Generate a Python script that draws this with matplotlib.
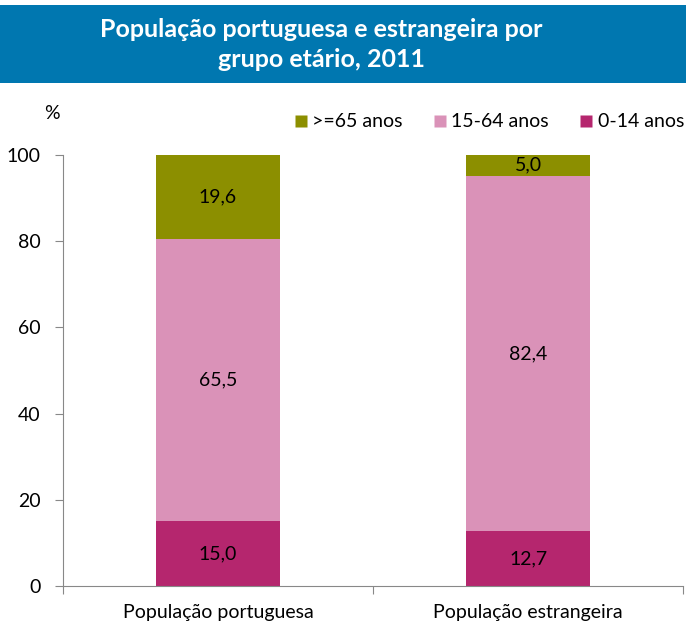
import matplotlib.pyplot as plt
from matplotlib.patches import Rectangle
from matplotlib.lines import Line2D
import numpy as np

# dados (INE, Censos 2011)
categorias = ["População portuguesa", "População estrangeira"]
grupos = [">=65 anos", "15-64 anos", "0-14 anos"]
idade_0_14 = [15.0, 12.7]
idade_15_64 = [65.5, 82.4]
idade_65 = [19.6, 5.0]

cores = {"0-14 anos": "#B5266E", "15-64 anos": "#DA92B8", ">=65 anos": "#8C8F00"}

plt.rcParams["font.family"] = ["Lato", "DejaVu Sans"]
fs = 14

fig = plt.figure(figsize=(6.86, 6.24), dpi=100)

# faixa azul do titulo
fig.patches.append(Rectangle((0, 0.867), 1, 0.125, transform=fig.transFigure,
                             facecolor="#0077B0", edgecolor="none", zorder=0))
fig.text(0.468, 0.929, "População portuguesa e estrangeira por\ngrupo etário, 2011",
         ha="center", va="center", color="white", fontsize=18, fontweight="bold",
         linespacing=1.35)

ax = fig.add_axes([0.0918, 0.0609, 0.904, 0.6907])

x = np.arange(len(categorias)) + 0.5
w = 0.4
fundo = np.zeros(len(categorias))
series = [("0-14 anos", idade_0_14), ("15-64 anos", idade_15_64), (">=65 anos", idade_65)]
for nome, vals in series:
    vals = np.array(vals)
    ax.bar(x, vals, w, bottom=fundo, color=cores[nome], edgecolor="none")
    for xi, b, v in zip(x, fundo, vals):
        ax.text(xi, b + v / 2, f"{v:.1f}".replace(".", ","), ha="center",
                va="center", fontsize=fs, color="black")
    fundo = fundo + vals

ax.set_xlim(0, 2)
ax.set_ylim(0, 100)
ax.set_yticks(range(0, 101, 20))
ax.set_xticks([0, 1, 2])
ax.set_xticklabels([])
ax.set_xticks(x, minor=True)
ax.set_xticklabels(categorias, minor=True)
ax.tick_params(axis="x", which="major", length=6, color="#888888")
ax.tick_params(axis="x", which="minor", length=0, pad=13, labelsize=fs)
ax.tick_params(axis="y", length=6, color="#888888", labelsize=fs, pad=10)
for s in ["top", "right"]:
    ax.spines[s].set_visible(False)
for s in ["left", "bottom"]:
    ax.spines[s].set_color("#888888")

fig.text(0.076, 0.818, "%", ha="center", va="center", fontsize=fs)

handles = [Line2D([], [], marker="s", linestyle="none", markersize=8,
                  markerfacecolor=cores[g], markeredgecolor="none") for g in grupos]
fig.legend(handles, grupos, loc="center right", bbox_to_anchor=(1.0, 0.8045),
           ncol=3, frameon=False, fontsize=fs, handlelength=0.6,
           handletextpad=0.3, columnspacing=1.6, borderaxespad=0.0,
           borderpad=0.1)

fig.savefig("out.png", dpi=100)
